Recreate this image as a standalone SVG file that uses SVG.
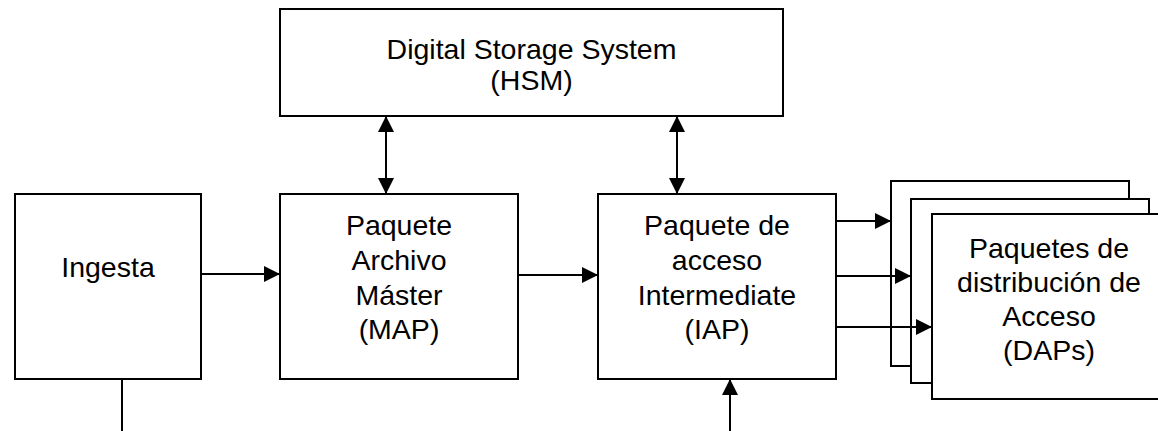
<svg xmlns="http://www.w3.org/2000/svg" width="1158" height="431" viewBox="0 0 1158 431">
<style>
.box{fill:#fff;stroke:#000;stroke-width:2}
.lbl{font-family:"Liberation Sans",Arial,sans-serif;font-size:28.5px;fill:#000;text-anchor:middle}
.con{stroke:#000;stroke-width:2;fill:none}
</style>
<defs>
<marker id="ah" markerUnits="userSpaceOnUse" markerWidth="16" markerHeight="16" refX="16" refY="8" orient="auto-start-reverse">
<path d="M0,0 L16,8 L0,16 z" fill="#000"/>
</marker>
</defs>
<rect width="1158" height="431" fill="#fff"/>
<g id="hsm">
<rect class="box" x="280" y="9" width="503" height="107"/>
<text class="lbl" x="531.5" y="59">Digital Storage System</text>
<text class="lbl" x="531.5" y="90">(HSM)</text>
</g>
<g id="ingesta">
<rect class="box" x="15" y="194" width="186" height="185"/>
<text class="lbl" x="108" y="277">Ingesta</text>
</g>
<g id="map">
<rect class="box" x="280" y="194" width="238" height="185"/>
<text class="lbl" x="399" y="235">Paquete</text>
<text class="lbl" x="399" y="270">Archivo</text>
<text class="lbl" x="399" y="305">Máster</text>
<text class="lbl" x="399" y="339">(MAP)</text>
</g>
<g id="iap">
<rect class="box" x="598" y="194" width="238" height="185"/>
<text class="lbl" x="717" y="235">Paquete de</text>
<text class="lbl" x="717" y="270">acceso</text>
<text class="lbl" x="717" y="305">Intermediate</text>
<text class="lbl" x="717" y="339">(IAP)</text>
</g>
<g id="daps">
<rect class="box" x="891" y="181" width="238" height="185"/>
<rect class="box" x="911" y="199" width="238" height="184"/>
<rect class="box" x="932" y="214" width="238" height="185"/>
<text class="lbl" x="1049" y="258">Paquetes de</text>
<text class="lbl" x="1049" y="292">distribución de</text>
<text class="lbl" x="1049" y="326">Acceso</text>
<text class="lbl" x="1049" y="360">(DAPs)</text>
</g>
<g id="connectors">
<line class="con" x1="386" y1="116" x2="386" y2="194" marker-start="url(#ah)" marker-end="url(#ah)"/>
<line class="con" x1="677" y1="116" x2="677" y2="194" marker-start="url(#ah)" marker-end="url(#ah)"/>
<line class="con" x1="201" y1="274" x2="280" y2="274" marker-end="url(#ah)"/>
<line class="con" x1="518" y1="275" x2="598" y2="275" marker-end="url(#ah)"/>
<line class="con" x1="836" y1="221" x2="891" y2="221" marker-end="url(#ah)"/>
<line class="con" x1="836" y1="276" x2="911" y2="276" marker-end="url(#ah)"/>
<line class="con" x1="836" y1="327" x2="932" y2="327" marker-end="url(#ah)"/>
<line class="con" x1="122" y1="379" x2="122" y2="431"/>
<line class="con" x1="730" y1="431" x2="730" y2="379" marker-end="url(#ah)"/>
</g>
</svg>
